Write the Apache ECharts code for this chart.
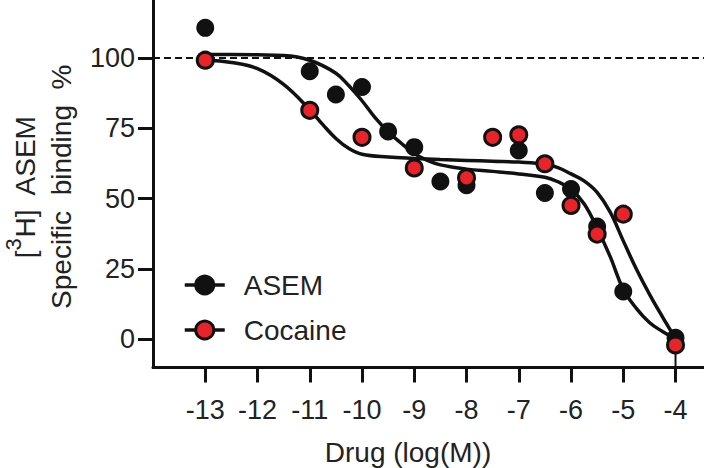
<!DOCTYPE html>
<html>
<head>
<meta charset="utf-8">
<script src="https://cdn.jsdelivr.net/npm/echarts@6/dist/echarts.min.js"></script>
<style>
html,body{margin:0;padding:0;background:#fff;}
#chart{width:704px;height:468px;}
</style>
</head>
<body>
<div id="chart"></div>
<script>
// ---- data ----
const xTicks = [-13, -12, -11, -10, -9, -8, -7, -6, -5, -4];
const yTicks = [0, 25, 50, 75, 100];

const asemX = [-13, -11, -10.5, -10, -9.5, -9, -8.5, -8, -7, -6.5, -6, -5.5, -5, -4];
const asemY = [110.7, 95.3, 87.0, 89.7, 73.9, 68.3, 56.1, 54.8, 67.1, 52.0, 53.4, 40.1, 17.0, 0.6];

const cocaineX = [-13, -11, -10, -9, -8, -7.5, -7, -6.5, -6, -5.5, -5, -4];
const cocaineY = [99.2, 81.4, 71.8, 60.9, 57.4, 71.8, 72.7, 62.4, 47.6, 37.4, 44.5, -2.0];

// fitted curves
const asemFitX = [-13, -12.5, -12, -11.5, -11, -10.5, -10.25, -10, -9.75, -9.5, -9.25, -9, -8.75, -8.5, -8, -7.5, -7, -6.5, -6.25, -6, -5.75, -5.5, -5.25, -5, -4.75, -4.5, -4.25, -4];
const asemFitY = [101.2, 101.2, 101.1, 100.9, 99.2, 94.6, 90.1, 84.8, 78.8, 73.8, 69.7, 66.0, 63.6, 62.0, 60.5, 59.7, 58.8, 57.6, 56.0, 53.3, 48.2, 39.5, 29.4, 17.8, 11.0, 6.0, 2.8, 0.2];

const cocaineFitX = [-13, -12.5, -12, -11.5, -11, -10.75, -10.5, -10.25, -10, -9.5, -9, -8.5, -8, -7.5, -7, -6.5, -6.25, -6, -5.75, -5.5, -5.25, -5, -4.75, -4.5, -4.25, -4];
const cocaineFitY = [99.3, 98.4, 96.2, 90.6, 81.6, 76.3, 71.4, 67.8, 65.8, 64.8, 64.3, 63.9, 63.6, 63.3, 63.0, 62.3, 61.0, 58.8, 56.3, 52.2, 45.2, 35.0, 25.0, 16.1, 8.0, 0.3];

// error bar visible at the last cocaine point
const errX = [-4];
const errLow = [-10];
const errHigh = [-2.0];

const referenceLine = 100;

// ---- build ----
const FONT = "'Liberation Sans', Arial, Helvetica, sans-serif";
const TXT = '#222';
const INK = '#111';
const RED = '#e8232a';

const zip = (xs, ys) => xs.map((x, i) => [x, ys[i]]);
const errData = [];
errX.forEach((x, i) => { errData.push([x, errLow[i]], [x, errHigh[i]], null); });

const chart = echarts.init(document.getElementById('chart'), null, { renderer: 'svg' });

chart.setOption({
  animation: false,
  backgroundColor: '#fff',
  grid: { left: 153, right: 0, top: 0, bottom: 100.5, containLabel: false, outerBoundsMode: 'none' },
  xAxis: {
    type: 'value',
    min: -14, max: -3.455,
    splitLine: { show: false },
    axisLine: { show: true, onZero: false, lineStyle: { color: INK, width: 3 } },
    axisTick: { show: true, length: 15, lineStyle: { color: INK, width: 3 }, customValues: xTicks },
    axisLabel: { margin: 29, fontSize: 27, color: TXT, fontFamily: FONT, customValues: xTicks, showMinLabel: true, showMaxLabel: true },
    name: 'Drug (log(M))',
    nameLocation: 'middle',
    nameGap: 71,
    nameMoveOverlap: false,
    nameTextStyle: { fontSize: 28, color: TXT, fontFamily: FONT, padding: [0, 41, 0, 0] }
  },
  yAxis: {
    type: 'value',
    min: -10, max: 120.6,
    splitLine: { show: false },
    axisLine: { show: true, onZero: false, lineStyle: { color: INK, width: 3 } },
    axisTick: { show: true, length: 15, lineStyle: { color: INK, width: 3 }, customValues: yTicks },
    axisLabel: { margin: 18, fontSize: 27, color: TXT, fontFamily: FONT, customValues: yTicks },
    name: '{t|[}{s|3}{t|H]\u00a0 ASEM}\n{u|Specific\u00a0 binding\u00a0 %}',
    nameLocation: 'middle',
    nameRotate: 90,
    nameGap: 79,
    nameMoveOverlap: false,
    nameTextStyle: {
      color: TXT, fontFamily: FONT, fontSize: 28, align: 'center', padding: [0, 6, 0, 0],
      rich: {
        t: { fontSize: 28, lineHeight: 46, color: TXT, fontFamily: FONT },
        s: { fontSize: 22, color: TXT, fontFamily: FONT, verticalAlign: 'top' },
        u: { fontSize: 28, lineHeight: 26, color: TXT, fontFamily: FONT }
      }
    }
  },
  legend: {
    data: ['ASEM', 'Cocaine'],
    orient: 'vertical',
    left: 183, top: 271,
    padding: 0,
    itemWidth: 40, itemHeight: 22.5, itemGap: 17,
    selectedMode: false,
    lineStyle: { width: 3.5, color: INK },
    itemStyle: { borderWidth: 3, borderColor: INK },
    textStyle: { fontSize: 28, color: TXT, fontFamily: FONT, padding: [0, 0, 0, 14] }
  },
  series: [
    {
      name: 'ASEM', type: 'line', data: zip(asemFitX, asemFitY),
      smooth: 0.4, showSymbol: false, symbol: 'circle', z: 3,
      lineStyle: { color: INK, width: 3.5 },
      itemStyle: { color: INK },
      markLine: {
        silent: true, symbol: ['none', 'none'], label: { show: false },
        lineStyle: { color: INK, width: 2, type: [7, 4] },
        data: [{ yAxis: referenceLine }]
      }
    },
    {
      name: 'Cocaine', type: 'line', data: zip(cocaineFitX, cocaineFitY),
      smooth: 0.4, showSymbol: false, symbol: 'circle', z: 3,
      lineStyle: { color: INK, width: 3.5 },
      itemStyle: { color: RED, borderColor: INK, borderWidth: 3 }
    },
    {
      name: 'err', type: 'line', data: errData, connectNulls: false,
      showSymbol: false, symbol: 'none', z: 3,
      lineStyle: { color: INK, width: 2 }
    },
    {
      name: 'ASEM data', type: 'scatter', data: zip(asemX, asemY),
      symbol: 'circle', symbolSize: 18, z: 4,
      itemStyle: { color: INK, opacity: 1 }
    },
    {
      name: 'Cocaine data', type: 'scatter', data: zip(cocaineX, cocaineY),
      symbol: 'circle', symbolSize: 16, z: 5,
      itemStyle: { color: RED, borderColor: INK, borderWidth: 3, opacity: 1 }
    }
  ]
});
</script>
</body>
</html>
